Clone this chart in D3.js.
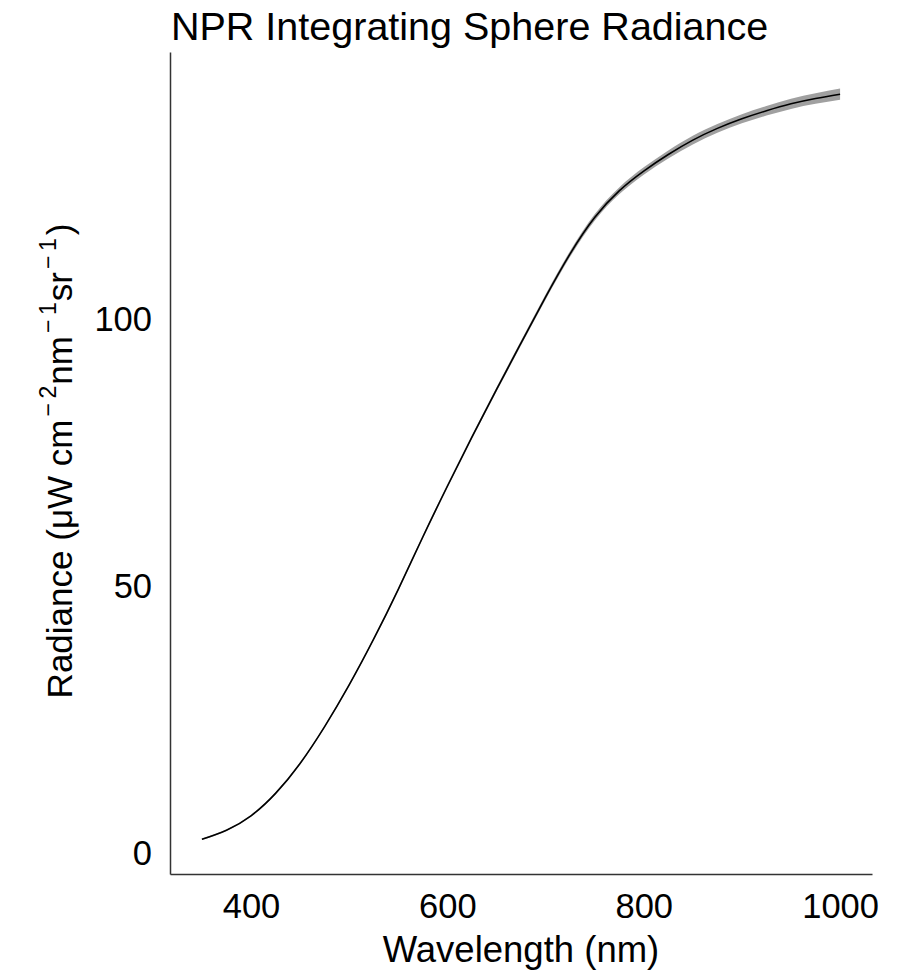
<!DOCTYPE html>
<html>
<head>
<meta charset="utf-8">
<script src="https://cdn.jsdelivr.net/npm/d3@7"></script>
<style>
  html, body { margin: 0; padding: 0; background: #ffffff; }
  svg { display: block; }
  text { font-family: "Liberation Sans", Arial, Helvetica, sans-serif; fill: #000; }
</style>
</head>
<body>
<svg id="chart" width="909" height="974"></svg>
<script>
// Sphere radiance spectrum (µW cm^-2 nm^-1 sr^-1)
const wavelength = [350, 375, 400, 425, 450, 475, 500, 525, 550, 575, 600, 625, 650,
                    675, 700, 725, 750, 775, 800, 825, 850, 875, 900, 925, 950, 975, 1000];
const radiance   = [2.4, 4.1, 6.8, 11.0, 16.6, 23.5, 31.3, 39.9, 49.2, 59.0, 68.5, 77.7, 86.6,
                    95.3, 103.9, 112.0, 118.8, 123.8, 127.5, 130.6, 133.3, 135.5, 137.3, 138.8, 140.1, 141.1, 141.9];
// uncertainty half-width, drawn as the grey band
const uncertainty = [0.15, 0.15, 0.15, 0.2, 0.2, 0.2, 0.25, 0.25, 0.3, 0.3, 0.35, 0.35, 0.4,
                     0.45, 0.5, 0.55, 0.6, 0.65, 0.7, 0.75, 0.8, 0.8, 0.85, 0.9, 0.95, 1.0, 1.05];
const xTicks = [400, 600, 800, 1000];
const yTicks = [0, 50, 100];
const yRange = [-4.1, 149.8];

const titleText = "NPR Integrating Sphere Radiance";
const xTitle = "Wavelength (nm)";

const data = wavelength.map((w, i) => ({ w, r: radiance[i], u: uncertainty[i] }));

const svg = d3.select("#chart");
const panel = { left: 170, right: 872, top: 52, bottom: 874 };

// 5% expansion on the wavelength axis
const wx0 = d3.min(wavelength), wx1 = d3.max(wavelength);
const ex = (wx1 - wx0) * 0.05;

const x = d3.scaleLinear().domain([wx0 - ex, wx1 + ex]).range([panel.left, panel.right]);
const y = d3.scaleLinear().domain(yRange).range([panel.bottom, panel.top]);

const curve = d3.curveNatural;

// uncertainty ribbon
svg.append("path")
  .datum(data)
  .attr("fill", "#a0a0a0")
  .attr("d", d3.area().curve(curve)
    .x(d => x(d.w)).y0(d => y(d.r - d.u)).y1(d => y(d.r + d.u)));

// radiance line
svg.append("path")
  .datum(data)
  .attr("fill", "none")
  .attr("stroke", "#000")
  .attr("stroke-width", 1.6)
  .attr("d", d3.line().curve(curve).x(d => x(d.w)).y(d => y(d.r)));

// axes (lines only, no tick marks)
const xAxis = svg.append("g")
  .attr("transform", `translate(0,${panel.bottom})`)
  .call(d3.axisBottom(x).tickValues(xTicks).tickSize(0).tickPadding(20).tickFormat(d3.format("d")));
const yAxis = svg.append("g")
  .attr("transform", `translate(${panel.left},0)`)
  .call(d3.axisLeft(y).tickValues(yTicks).tickSize(0).tickPadding(18).tickFormat(d3.format("d")));

[xAxis, yAxis].forEach(g => {
  g.select(".domain").attr("stroke", "#333").attr("stroke-width", 1.5);
  g.selectAll(".tick text")
    .attr("font-family", "Liberation Sans, Arial, sans-serif")
    .attr("font-size", 34.5)
    .attr("fill", "#000");
});
xAxis.selectAll(".tick text").attr("dy", "0.71em");
yAxis.selectAll(".tick text").attr("dy", "0.36em");

// title
svg.append("text")
  .attr("x", panel.left + 1)
  .attr("y", 40)
  .attr("font-size", 39.5)
  .text(titleText);

// x axis title
svg.append("text")
  .attr("x", (panel.left + panel.right) / 2)
  .attr("y", 962)
  .attr("text-anchor", "middle")
  .attr("font-size", 36.5)
  .text(xTitle);

// y axis title with superscript units
const yt = svg.append("text")
  .attr("transform", `translate(72,${(panel.top + panel.bottom) / 2 - 2}) rotate(-90)`)
  .attr("text-anchor", "middle")
  .attr("font-size", 35);
const parts = [
  { t: "Radiance (\u03bcW cm", sup: false },
  { t: "\u2212\u20092", sup: true },
  { t: "nm", sup: false },
  { t: "\u2212\u20091", sup: true },
  { t: "sr", sup: false },
  { t: "\u2212\u20091", sup: true },
  { t: ")", sup: false }
];
let prevSup = false;
parts.forEach(p => {
  const ts = yt.append("tspan").text(p.t);
  if (p.sup) {
    ts.attr("font-size", 23).attr("dy", -16).attr("dx", 3);
  } else if (prevSup) {
    ts.attr("dy", 16).attr("dx", p.t === ")" ? 3 : 1);
  }
  prevSup = p.sup;
});
</script>
</body>
</html>
